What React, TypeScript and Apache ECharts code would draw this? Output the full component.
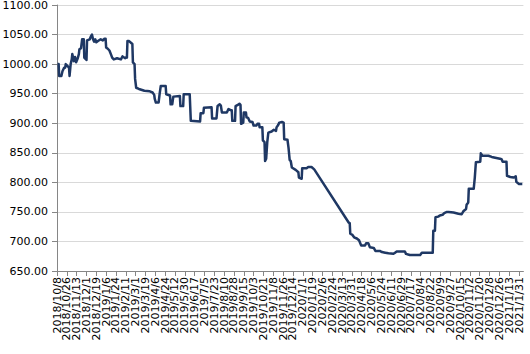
import React, { useEffect, useRef } from "react";
import * as echarts from "echarts";

const START_DATE = "2018/10/8";
const AXIS_END_DATE = "2021/2/8";

const tickLabels = [
  "2018/10/8", "2018/10/26", "2018/11/13", "2018/12/1", "2018/12/19",
  "2019/1/6", "2019/1/24", "2019/2/11", "2019/3/1", "2019/3/19", "2019/4/6", "2019/4/24",
  "2019/5/12", "2019/5/30", "2019/6/17", "2019/7/5", "2019/7/23", "2019/8/10", "2019/8/28",
  "2019/9/15", "2019/10/3", "2019/10/21", "2019/11/8", "2019/11/26", "2019/12/14",
  "2020/1/1", "2020/1/19", "2020/2/6", "2020/2/24", "2020/3/13", "2020/3/31", "2020/4/18",
  "2020/5/6", "2020/5/24", "2020/6/11", "2020/6/29", "2020/7/17", "2020/8/4", "2020/8/22",
  "2020/9/9", "2020/9/27", "2020/10/15", "2020/11/2", "2020/11/20", "2020/12/8", "2020/12/26",
  "2021/1/13", "2021/1/31",
];

const yLabels = [650, 700, 750, 800, 850, 900, 950, 1000, 1050, 1100];

const dates2018 = [
  "2018/10/9", "2018/10/11", "2018/10/12", "2018/10/16", "2018/10/18", "2018/10/21", "2018/10/23",
  "2018/10/24", "2018/10/27", "2018/10/30", "2018/10/31", "2018/11/1", "2018/11/2", "2018/11/4",
  "2018/11/5", "2018/11/8", "2018/11/10", "2018/11/12", "2018/11/15", "2018/11/17", "2018/11/18",
  "2018/11/21", "2018/11/23", "2018/11/26", "2018/11/27", "2018/12/1", "2018/12/2", "2018/12/7",
  "2018/12/9", "2018/12/11", "2018/12/13", "2018/12/15", "2018/12/17", "2018/12/19", "2018/12/22",
  "2018/12/27", "2018/12/31",
];
const values2018 = [
  1000, 1000, 980, 980, 988, 994, 994,
  1000, 997, 994, 980, 980, 1000, 1008,
  1017, 1005, 1012, 1003, 1010, 1017, 1025,
  1027, 1042, 1042, 1011, 1007, 1040, 1042,
  1047, 1050, 1042, 1038, 1042, 1037, 1039,
  1042, 1040,
];

const dates2019 = [
  "2019/1/3", "2019/1/5", "2019/1/6", "2019/1/9", "2019/1/12", "2019/1/15", "2019/1/17",
  "2019/1/20", "2019/1/26", "2019/2/2", "2019/2/5", "2019/2/10", "2019/2/12", "2019/2/13",
  "2019/2/14", "2019/2/17", "2019/2/23", "2019/2/24", "2019/2/27", "2019/2/28", "2019/3/2",
  "2019/3/7", "2019/3/17", "2019/3/27", "2019/4/1", "2019/4/4", "2019/4/5", "2019/4/7",
  "2019/4/12", "2019/4/14", "2019/4/16", "2019/4/25", "2019/4/26", "2019/5/3", "2019/5/4",
  "2019/5/7", "2019/5/9", "2019/5/21", "2019/5/22", "2019/5/27", "2019/5/28", "2019/6/8",
  "2019/6/10", "2019/6/27", "2019/6/28", "2019/7/3", "2019/7/4", "2019/7/18", "2019/7/19",
  "2019/7/27", "2019/7/29", "2019/8/2", "2019/8/4", "2019/8/6", "2019/8/15", "2019/8/18",
  "2019/8/22", "2019/8/24", "2019/8/25", "2019/8/30", "2019/8/31", "2019/9/4", "2019/9/7",
  "2019/9/9", "2019/9/10", "2019/9/14", "2019/9/15", "2019/9/19", "2019/9/20", "2019/9/23",
  "2019/9/26", "2019/10/1", "2019/10/3", "2019/10/8", "2019/10/10", "2019/10/13", "2019/10/14",
  "2019/10/19", "2019/10/20", "2019/10/23", "2019/10/24", "2019/10/26", "2019/10/28", "2019/10/30",
  "2019/11/5", "2019/11/9", "2019/11/13", "2019/11/14", "2019/11/17", "2019/11/19", "2019/11/24",
  "2019/11/27", "2019/11/28", "2019/12/4", "2019/12/6", "2019/12/8", "2019/12/10", "2019/12/12",
  "2019/12/19", "2019/12/24", "2019/12/25", "2019/12/30", "2019/12/31",
];
const values2019 = [
  1043, 1043, 1028, 1026, 1023, 1016, 1011,
  1008, 1010, 1008, 1013, 1010, 1012, 1011,
  1039, 1039, 1034, 1003, 1000, 975, 960,
  958, 955, 954, 952, 948, 941, 935,
  935, 950, 963, 963, 949, 947, 932,
  932, 945, 946, 929, 929, 949, 949,
  904, 903, 917, 917, 926, 927, 908,
  908, 929, 932, 930, 918, 918, 924,
  922, 922, 904, 904, 929, 931, 933,
  931, 899, 901, 918, 918, 910, 909,
  903, 902, 896, 896, 899, 899, 893,
  893, 871, 868, 836, 840, 868, 884,
  886, 889, 887, 893, 897, 901, 902,
  901, 873, 872, 858, 838, 836, 825,
  821, 817, 808, 806, 824,
];

const dates2020 = [
  "2020/1/8", "2020/1/11", "2020/1/17", "2020/1/22", "2020/3/25", "2020/3/27", "2020/3/28",
  "2020/4/1", "2020/4/4", "2020/4/9", "2020/4/13", "2020/4/17", "2020/4/24", "2020/4/26",
  "2020/4/30", "2020/5/3", "2020/5/10", "2020/5/13", "2020/5/21", "2020/5/25", "2020/5/31",
  "2020/6/6", "2020/6/15", "2020/6/18", "2020/6/21", "2020/7/6", "2020/7/8", "2020/7/15",
  "2020/8/3", "2020/8/6", "2020/8/26", "2020/8/27", "2020/8/30", "2020/8/31", "2020/9/5",
  "2020/9/8", "2020/9/13", "2020/9/16", "2020/9/21", "2020/9/24", "2020/10/3", "2020/10/12",
  "2020/10/18", "2020/10/21", "2020/10/26", "2020/10/27", "2020/10/30", "2020/10/31", "2020/11/9",
  "2020/11/11", "2020/11/13", "2020/11/21", "2020/11/22", "2020/11/25", "2020/12/6", "2020/12/12",
  "2020/12/27", "2020/12/30",
];
const values2020 = [
  824, 826, 826, 822, 732, 731, 713,
  711, 707, 705, 702, 693, 693, 697,
  697, 690, 689, 684, 684, 682, 681,
  680, 679, 681, 683, 683, 679, 677,
  677, 681, 681, 718, 718, 741, 742,
  744, 745, 748, 750, 750, 749, 747,
  746, 751, 755, 762, 766, 789, 789,
  808, 834, 835, 849, 845, 845, 843,
  840, 839,
];

const dates2021 = [
  "2021/1/1", "2021/1/8", "2021/1/9", "2021/1/15", "2021/1/21", "2021/1/25", "2021/1/26",
  "2021/1/31", "2021/2/6",
];
const values2021 = [835, 835, 811, 809, 808, 810, 801, 797, 797];

const DAY_MS = 86400000;
function toUTC(s: string): number {
  const [y, m, d] = s.split("/").map(Number);
  return Date.UTC(y, m - 1, d);
}
function toDay(s: string): number {
  return Math.round((toUTC(s) - toUTC(START_DATE)) / DAY_MS);
}

export default function App() {
  const ref = useRef<HTMLDivElement>(null);
  useEffect(() => {
    if (!ref.current) return;
    const chart = echarts.init(ref.current, null, { renderer: "svg" });
    const allDates = [...dates2018, ...dates2019, ...dates2020, ...dates2021];
    const allValues = [...values2018, ...values2019, ...values2020, ...values2021];
    const data = allDates.map((d, i) => [toDay(d), allValues[i]]);
    const tickPos = tickLabels.map(toDay);
    const labelMap: Record<number, string> = {};
    tickLabels.forEach((t, i) => (labelMap[tickPos[i]] = t));
    const evenPos = tickPos.filter((_, i) => i % 2 === 0);
    const oddPos = tickPos.filter((_, i) => i % 2 === 1);
    const font = "DejaVu Sans, Verdana, sans-serif";
    const xMax = toDay(AXIS_END_DATE);
    const labelStyle = {
      interval: 0,
      rotate: 90,
      margin: 6,
      fontSize: 11,
      fontFamily: font,
      color: "#000000",
      hideOverlap: false,
      showMinLabel: true,
      showMaxLabel: true,
      formatter: (v: number) => labelMap[Math.round(v)] ?? "",
    };
    chart.setOption({
      animation: false,
      backgroundColor: "#ffffff",
      grid: { left: 57, right: 530 - 523.4, top: 5, bottom: 354 - 271, containLabel: false, outerBoundsMode: "none" },
      xAxis: [
        {
          type: "value",
          position: "bottom",
          min: 0,
          max: xMax,
          splitLine: { show: false },
          axisLine: { show: true, onZero: false, lineStyle: { color: "#868686", width: 1 } },
          axisTick: { show: true, length: 5, lineStyle: { color: "#868686" }, customValues: tickPos },
          axisLabel: { ...labelStyle, customValues: evenPos },
        },
        {
          type: "value",
          position: "bottom",
          min: 0,
          max: xMax,
          splitLine: { show: false },
          axisLine: { show: false, onZero: false },
          axisTick: { show: false },
          axisLabel: { ...labelStyle, customValues: oddPos },
        },
      ],
      yAxis: {
        type: "value",
        min: yLabels[0],
        max: yLabels[yLabels.length - 1],
        interval: 50,
        axisLine: { show: true, lineStyle: { color: "#868686", width: 1 } },
        axisTick: { show: true, length: 5, lineStyle: { color: "#868686" } },
        splitLine: { show: true, lineStyle: { color: "#d9d9d9", width: 1 } },
        axisLabel: {
          margin: 9,
          fontSize: 11,
          fontFamily: font,
          color: "#000000",
          showMinLabel: true,
          showMaxLabel: true,
          formatter: (v: number) => v.toFixed(2),
        },
      },
      series: [
        {
          type: "line",
          xAxisIndex: 0,
          data,
          showSymbol: false,
          symbol: "none",
          lineStyle: { color: "#1F3864", width: 2.5, join: "round" },
          itemStyle: { color: "#1F3864" },
        },
      ],
    });
    return () => chart.dispose();
  }, []);
  return (
    <div
      ref={ref}
      style={{ position: "fixed", left: 0, top: 0, width: 530, height: 354, background: "#fff" }}
    />
  );
}
